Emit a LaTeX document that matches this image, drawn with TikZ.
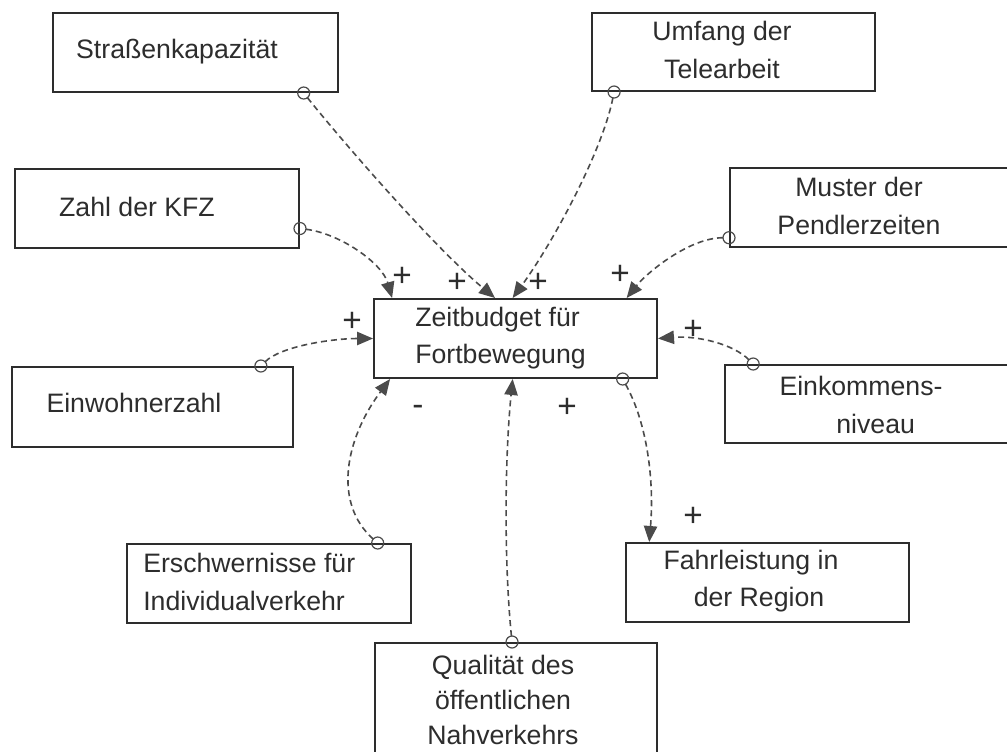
\documentclass[tikz,border=0pt]{standalone}
\usepackage{fontspec}
\setmainfont{Liberation Sans}
\usetikzlibrary{arrows.meta,calc,fit}

\definecolor{ink}{RGB}{45,45,45}
\definecolor{linkgray}{RGB}{75,75,75}

\begin{document}
\begin{tikzpicture}[x=0.75pt,y=0.75pt,yscale=-1,xscale=1,
  box/.style={draw=ink, line width=1.5pt, inner sep=0pt},
  txt/.style={text=ink, font=\fontsize{20}{28}\selectfont, inner sep=0pt},
  link/.style={draw=linkgray, line width=1.2pt, dash pattern=on 4.5pt off 3pt,
    shorten <=4.5pt, -{Triangle[length=12pt,width=10pt]}},
  ring/.style={draw=linkgray, line width=0.9pt},
  sign/.style={text=ink, font=\fontsize{25}{28}\selectfont, inner sep=0pt}]
\useasboundingbox (0,0) rectangle (1007,751);

%Shape: Rectangle [variables]
\node [box, fit={(53,13) (338,92)}] (strasse) {};
\node [box, fit={(592,13) (875,91)}] (umfang) {};
\node [box, fit={(15,169) (299,248)}] (kfz) {};
\node [box, fit={(730,168) (1030,247)}] (muster) {};
\node [box, fit={(374,299) (657,378)}] (zeit) {};
\node [box, fit={(12,367) (293,447)}] (einw) {};
\node [box, fit={(725,365) (1030,443)}] (eink) {};
\node [box, fit={(127,544) (411,623)}] (ersch) {};
\node [box, fit={(626,543) (909,622)}] (fahr) {};
\node [box, fit={(375,643) (657,800)}] (qual) {};

% Text Node
\node [txt] (strasse-t) at (177,52) {Straßenkapazität};
% Text Node
\node [txt, align=center] (umfang-t) at (722,50) {Umfang der\\Telearbeit};
% Text Node
\node [txt] (kfz-t) at (137,207) {Zahl der KFZ};
% Text Node
\node [txt, align=center] (muster-t) at (859,206) {Muster der\\Pendlerzeiten};
% Text Node
\node [txt, align=left, anchor=west] (zeit-t) at (415,338) {Zeitbudget für\\Fortbewegung};
% Text Node
\node [txt] (einw-t) at (134,403) {Einwohnerzahl};
% Text Node
\node [txt, align=center] (eink-t) at (861,405) {Einkommens-\\\hspace{1.1em}niveau};
% Text Node
\node [txt, align=left, anchor=west] (ersch-t) at (143,582) {Erschwernisse für\\Individualverkehr};
% Text Node
\node [txt, align=center] (fahr-t) at (751,581) {Fahrleistung in\\\hspace{0.6em}der Region};
% Text Node
\node [txt, align=center, font=\fontsize{20}{26}\selectfont] (qual-t) at (503,700) {Qualität des\\öffentlichen\\Nahverkehrs};

%Link start points
\coordinate (sA) at ($(strasse.south west)!.877!(strasse.south east)$);
\coordinate (sB) at ($(umfang.south west)!.081!(umfang.south east)$);
\coordinate (sC) at ($(kfz.north east)!.747!(kfz.south east)$);
\coordinate (sD) at ($(muster.north west)!.873!(muster.south west)$);
\coordinate (sE) at ($(einw.north west)!.883!(einw.north east)$);
\coordinate (sF) at ($(eink.north west)!.095!(eink.north east)$);
\coordinate (sG) at ($(ersch.north west)!.88!(ersch.north east)$);
\coordinate (sH) at ($(qual.north west)!.486!(qual.north east)$);
\coordinate (sI) at ($(zeit.south west)!.876!(zeit.south east)$);

%Curve Lines
\draw [link] (sA) .. controls +(40,50) and +(-60,-50) .. ($(zeit.north west)!.428!(zeit.north east)$);
\draw [link] (sB) .. controls +(-12,60) and +(40,-55) .. ($(zeit.north west)!.49!(zeit.north east)$);
\draw [link] (sC) .. controls +(40,5) and +(-10,-35) .. ($(zeit.north west)!.067!(zeit.north east)$);
\draw [link] (sD) .. controls +(-40,0) and +(20,-25) .. ($(zeit.north west)!.89!(zeit.north east)$);
\draw [link] (sE) .. controls +(20,-20) and +(-40,0) .. (zeit.west);
\draw [link] (sF) .. controls +(-20,-20) and +(40,-3) .. (zeit.east);
\draw [link] (sG) .. controls +(-45,-40) and +(-45,60) .. ($(zeit.south west)!.06!(zeit.south east)$);
\draw [link] (sH) .. controls +(-8,-80) and +(-8,80) .. ($(zeit.south west)!.49!(zeit.south east)$);
\draw [link] (sI) .. controls +(25,45) and +(5,-60) .. ($(fahr.north west)!.085!(fahr.north east)$);

%Circles
\foreach \p in {sA,sB,sC,sD,sE,sF,sG,sH,sI}
  \draw [ring] (\p) circle (6);

% Polarity signs
\node [sign] (pC) at (402,277) {+};
\node [sign] (pA) at (457,283) {+};
\node [sign] (pB) at (538,283) {+};
\node [sign] (pD) at (620,275) {+};
\node [sign] (pE) at (352,322) {+};
\node [sign] (pF) at (693,330) {+};
\node [sign] (pG) at (418,410) {-};
\node [sign] (pH) at (567,408) {+};
\node [sign] (pI) at (693,517) {+};

\end{tikzpicture}
\end{document}
